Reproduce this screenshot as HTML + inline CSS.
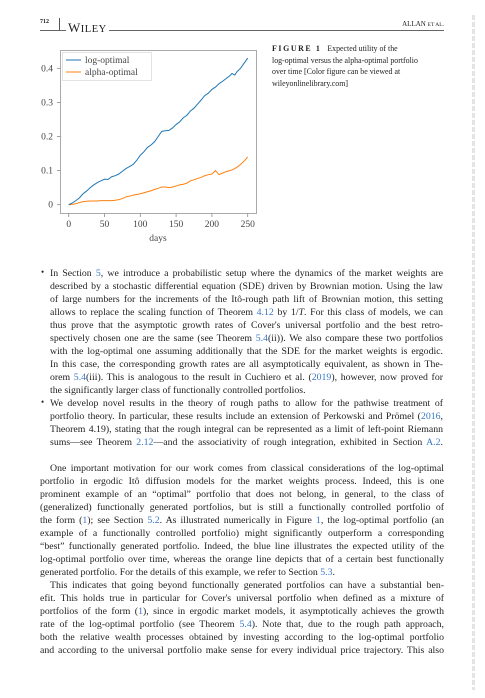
<!DOCTYPE html>
<html><head><meta charset="utf-8">
<style>
body{margin:0;width:485px;height:698px;background:#fff;position:relative;overflow:hidden;font-family:"Liberation Serif",serif;color:#222}
.ln{position:absolute;font-size:9.8px;line-height:13px;white-space:nowrap;text-align:justify;text-align-last:justify}
.b{left:50px;width:393px}
.p{left:40px;width:404px}
a,.r{color:#3a78c2;text-decoration:none}
.cap{position:absolute;left:272px;font-size:7.9px;line-height:11.5px;white-space:nowrap}
</style></head><body>
<div style="position:absolute;left:40px;top:19px;font-size:6px;font-weight:bold">712</div>
<div style="position:absolute;left:59px;top:18px;width:1px;height:12px;background:#555"></div>
<div style="position:absolute;left:40px;top:30px;width:404px;height:1px;background:#666"></div>
<div style="position:absolute;left:66px;top:21px;font-size:13px;letter-spacing:0.5px;background:#fff;padding:0 2px;line-height:13px">W<span style="font-size:10.5px">ILEY</span></div>
<div style="position:absolute;right:41px;top:20px;font-size:7px">ALLAN <span style="font-size:5.5px">ET AL.</span></div>
<div style="position:absolute;left:472px;top:15px;width:3px;height:675px;background:repeating-linear-gradient(#bbb 0 5px,#fff 5px 7px);opacity:0.4"></div>

<svg id="chart" width="270" height="250" style="position:absolute;left:0;top:0" font-family="Liberation Serif, serif"></svg>

<div class="cap" style="top:43px"><b style="letter-spacing:1.6px">FIGURE 1</b>&nbsp;&nbsp; Expected utility of the</div>
<div class="cap" style="top:55px">log-optimal versus the alpha-optimal portfolio</div>
<div class="cap" style="top:66px">over time [Color figure can be viewed at</div>
<div class="cap" style="top:78px">wileyonlinelibrary.com]</div>

<div style="position:absolute;left:41px;top:267px;font-size:9px">•</div>
<div style="position:absolute;left:41px;top:397px;font-size:9px">•</div>
<div>
<div class="ln b" style="top:267px">In Section <span class="r">5</span>, we introduce a probabilistic setup where the dynamics of the market weights are</div>
<div class="ln b" style="top:280px">described by a stochastic differential equation (SDE) driven by Brownian motion. Using the law</div>
<div class="ln b" style="top:293px">of large numbers for the increments of the Itô-rough path lift of Brownian motion, this setting</div>
<div class="ln b" style="top:306px">allows to replace the scaling function of Theorem <span class="r">4.12</span> by 1/<i>T</i>. For this class of models, we can</div>
<div class="ln b" style="top:319px">thus prove that the asymptotic growth rates of Cover's universal portfolio and the best retro-</div>
<div class="ln b" style="top:332px">spectively chosen one are the same (see Theorem <span class="r">5.4</span>(ii)). We also compare these two portfolios</div>
<div class="ln b" style="top:345px">with the log-optimal one assuming additionally that the SDE for the market weights is ergodic.</div>
<div class="ln b" style="top:358px">In this case, the corresponding growth rates are all asymptotically equivalent, as shown in The-</div>
<div class="ln b" style="top:371px">orem <span class="r">5.4</span>(iii). This is analogous to the result in Cuchiero et al. (<span class="r">2019</span>), however, now proved for</div>
<div class="ln b" style="top:384px;text-align-last:left">the significantly larger class of functionally controlled portfolios.</div>
<div class="ln b" style="top:397px">We develop novel results in the theory of rough paths to allow for the pathwise treatment of</div>
<div class="ln b" style="top:410px">portfolio theory. In particular, these results include an extension of Perkowski and Prömel (<span class="r">2016</span>,</div>
<div class="ln b" style="top:423px">Theorem 4.19), stating that the rough integral can be represented as a limit of left-point Riemann</div>
<div class="ln b" style="top:436px">sums—see Theorem <span class="r">2.12</span>—and the associativity of rough integration, exhibited in Section <span class="r">A.2</span>.</div>
</div>
<div>
<div class="ln p" style="top:462px;left:50px;width:394px">One important motivation for our work comes from classical considerations of the log-optimal</div>
<div class="ln p" style="top:475px">portfolio in ergodic Itô diffusion models for the market weights process. Indeed, this is one</div>
<div class="ln p" style="top:488px">prominent example of an “optimal” portfolio that does not belong, in general, to the class of</div>
<div class="ln p" style="top:501px">(generalized) functionally generated portfolios, but is still a functionally controlled portfolio of</div>
<div class="ln p" style="top:514px">the form (<span class="r">1</span>); see Section <span class="r">5.2</span>. As illustrated numerically in Figure <span class="r">1</span>, the log-optimal portfolio (an</div>
<div class="ln p" style="top:527px">example of a functionally controlled portfolio) might significantly outperform a corresponding</div>
<div class="ln p" style="top:540px">“best” functionally generated portfolio. Indeed, the blue line illustrates the expected utility of the</div>
<div class="ln p" style="top:553px">log-optimal portfolio over time, whereas the orange line depicts that of a certain best functionally</div>
<div class="ln p" style="top:566px;text-align-last:left">generated portfolio. For the details of this example, we refer to Section <span class="r">5.3</span>.</div>
<div class="ln p" style="top:579px;left:50px;width:394px">This indicates that going beyond functionally generated portfolios can have a substantial ben-</div>
<div class="ln p" style="top:592px">efit. This holds true in particular for Cover's universal portfolio when defined as a mixture of</div>
<div class="ln p" style="top:605px">portfolios of the form (<span class="r">1</span>), since in ergodic market models, it asymptotically achieves the growth</div>
<div class="ln p" style="top:618px">rate of the log-optimal portfolio (see Theorem <span class="r">5.4</span>). Note that, due to the rough path approach,</div>
<div class="ln p" style="top:631px">both the relative wealth processes obtained by investing according to the log-optimal portfolio</div>
<div class="ln p" style="top:644px">and according to the universal portfolio make sense for every individual price trajectory. This also</div>
</div>

<script>
const days = [0,5,10,15,20,25,30,35,40,45,50,55,60,65,70,75,80,85,90,95,100,105,110,115,120,125,130,135,140,145,150,155,160,165,170,175,180,185,190,195,200,205,210,215,220,225,228,232,235,240,245,250];
const logOptimal = [0,0.005,0.012,0.02,0.032,0.04,0.05,0.058,0.065,0.07,0.075,0.074,0.082,0.085,0.09,0.098,0.106,0.112,0.118,0.13,0.145,0.155,0.168,0.175,0.185,0.2,0.215,0.217,0.218,0.225,0.235,0.243,0.255,0.262,0.275,0.283,0.295,0.307,0.32,0.327,0.338,0.345,0.355,0.362,0.37,0.378,0.385,0.38,0.39,0.4,0.415,0.43];
const alphaOptimal = [0,0.001,0.003,0.006,0.009,0.01,0.011,0.011,0.011,0.012,0.012,0.012,0.012,0.013,0.015,0.018,0.023,0.025,0.028,0.03,0.032,0.035,0.038,0.041,0.045,0.048,0.052,0.052,0.05,0.052,0.055,0.058,0.06,0.063,0.07,0.073,0.077,0.08,0.085,0.088,0.09,0.1,0.088,0.093,0.097,0.1,0.102,0.106,0.11,0.118,0.128,0.14];
const yTicks = [0,0.1,0.2,0.3,0.4];
const yTickLabels = ["0","0.1","0.2","0.3","0.4"];
const xTicks = [0,50,100,150,200,250];

const NS="http://www.w3.org/2000/svg";
const svg=document.getElementById('chart');
const X=d=>68.7+d*(179/250);
const Y=v=>204.7-v*341;
function mk(t,a){const e=document.createElementNS(NS,t);for(const k in a)e.setAttribute(k,a[k]);svg.appendChild(e);return e;}
const frame=mk('rect',{x:60.5,y:50.5,width:196,height:163,fill:'none',stroke:'#aaa','stroke-width':1});


yTicks.forEach((v,i)=>{
  const t=mk('line',{x1:57,x2:60.5,y1:Y(v),y2:Y(v),stroke:'#888','stroke-width':0.8});
  
  
  const l=mk('text',{x:53,y:Y(v)+3,'text-anchor':'end','font-size':9.5,fill:'#444'});
  l.textContent=yTickLabels[i];
  
  
});
xTicks.forEach(d=>{
  const t=mk('line',{x1:X(d),x2:X(d),y1:213.5,y2:217,stroke:'#888','stroke-width':0.8});
  
  
  const l=mk('text',{x:X(d),y:227,'text-anchor':'middle','font-size':9.5,fill:'#444'});
  l.textContent=d;
  
  
});
const xt=mk('text',{x:158,y:241,'text-anchor':'middle','font-size':9.5,fill:'#444'});
xt.textContent='days';


function line(vals,col,name){
  const p=mk('polyline',{points:days.map((d,i)=>X(d)+','+Y(vals[i])).join(' '),fill:'none',stroke:col,'stroke-width':1});
  
  
}
line(alphaOptimal,'#ff7f0e','alpha-optimal-line');
line(logOptimal,'#1f77b4','log-optimal-line');
const lg=mk('rect',{x:62.5,y:52.5,width:89,height:28,fill:'#fff',stroke:'#ddd','stroke-width':0.8});


[['log-optimal','#1f77b4',60],['alpha-optimal','#ff7f0e',72]].forEach(([n,c,y])=>{
  const s=mk('line',{x1:66,x2:81,y1:y,y2:y,stroke:c,'stroke-width':1});
  
  
  const t=mk('text',{x:85,y:y+3,'font-size':9.5,fill:'#444'});
  t.textContent=n;
  
  
});
</script>
</body></html>
